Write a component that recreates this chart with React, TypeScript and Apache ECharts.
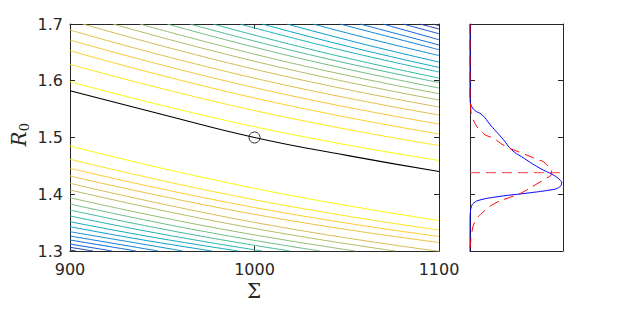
import React, { useEffect, useRef } from 'react';
import * as echarts from 'echarts';

// Axes
const sigmaRange = [900, 1100];
const sigmaStep = 100;
const r0Range = [1.3, 1.7];
const r0Step = 0.1;

// Contour lines above the ridge, [Σ, R0] points, ordered from ridge outward
const upperContours: number[][][] = [
  [[900, 1.5983], [1000, 1.519], [1100, 1.4595]],
  [[900, 1.629], [1000, 1.5475], [1100, 1.4859]],
  [[900, 1.653], [1000, 1.5696], [1100, 1.5062]],
  [[900, 1.6718], [1000, 1.5878], [1100, 1.5238]],
  [[900, 1.6894], [1000, 1.6045], [1100, 1.5396]],
  [[907.0, 1.7], [1003.5, 1.6176], [1100, 1.5537]],
  [[923.3, 1.7], [1011.7, 1.6253], [1100, 1.5661]],
  [[937.9, 1.7], [1019.0, 1.632], [1100, 1.5772]],
  [[952.6, 1.7], [1026.3, 1.6382], [1100, 1.5872]],
  [[965.0, 1.7], [1032.5, 1.6439], [1100, 1.5969]],
  [[977.5, 1.7], [1038.8, 1.6487], [1100, 1.6048]],
  [[992.1, 1.7], [1046.0, 1.6548], [1100, 1.6154]],
  [[1004.1, 1.7], [1052.0, 1.6595], [1100, 1.6235]],
  [[1017.6, 1.7], [1058.8, 1.6648], [1100, 1.633]],
  [[1031.7, 1.7], [1065.9, 1.6711], [1100, 1.6445]],
  [[1046.3, 1.7], [1100, 1.6547]],
  [[1057.2, 1.7], [1100, 1.663]],
  [[1069.6, 1.7], [1100, 1.6723]],
  [[1080.5, 1.7], [1100, 1.6829]],
  [[1089.7, 1.7], [1100, 1.6912]],
  [[1096.7, 1.7], [1100, 1.6972]],
];

// Contour lines below the ridge, ordered from ridge outward
const lowerContours: number[][][] = [
  [[900, 1.485], [1000, 1.4104], [1100, 1.3537]],
  [[900, 1.4616], [1000, 1.3903], [1100, 1.337]],
  [[900, 1.4457], [1000, 1.3766], [1100, 1.3256]],
  [[900, 1.4322], [1000, 1.3646], [1100, 1.315]],
  [[900, 1.4193], [1000, 1.3504], [1100, 1.2995]],
  [[900, 1.4075], [988.1, 1.3468], [1076.2, 1.3]],
  [[900, 1.3939], [977.3, 1.3416], [1054.5, 1.3]],
  [[900, 1.3828], [967.8, 1.3373], [1035.5, 1.3]],
  [[900, 1.3722], [959.6, 1.3329], [1019.2, 1.3]],
  [[900, 1.3617], [952.0, 1.3285], [1004.1, 1.3]],
  [[900, 1.3516], [945.6, 1.3239], [991.1, 1.3]],
  [[900, 1.3428], [938.5, 1.3201], [977.0, 1.3]],
  [[900, 1.334], [961.2, 1.3]],
  [[900, 1.3264], [947.7, 1.3]],
  [[900, 1.3194], [935.8, 1.3]],
  [[900, 1.3123], [922.8, 1.3]],
  [[900, 1.3065], [912.5, 1.3]],
  [[900, 1.3018], [903.3, 1.3]],
];

// Black curve and the true-parameter marker
const bestFitSigma = [900, 950, 1000, 1050, 1100];
const bestFitR0 = [1.5825, 1.5405, 1.5, 1.4685, 1.44];
const trueSigma = 1000;
const trueR0 = 1.5;

// Marginal densities (right panel)
const blueR0 = [1.7, 1.6, 1.565, 1.557, 1.548, 1.54, 1.522, 1.496, 1.478, 1.466, 1.446, 1.434, 1.425, 1.42, 1.416, 1.4105, 1.4075, 1.4027, 1.3957, 1.3899, 1.3846, 1.378, 1.37, 1.355, 1.3];
const blueDensity = [0, 0, 0.002, 0.012, 0.05, 0.13, 0.22, 0.36, 0.45, 0.556, 0.75, 0.895, 0.968, 0.986, 0.98, 0.94, 0.86, 0.65, 0.3, 0.108, 0.04, 0.015, 0.005, 0.001, 0];
const redR0 = [1.7, 1.58, 1.555, 1.5338, 1.5074, 1.4986, 1.4838, 1.475, 1.4616, 1.4545, 1.437, 1.4281, 1.4193, 1.4027, 1.3957, 1.3841, 1.3664, 1.3516, 1.3312, 1.31, 1.3];
const redDensity = [0, 0, 0.006, 0.029, 0.143, 0.25, 0.39, 0.52, 0.72, 0.81, 0.878, 0.82, 0.73, 0.556, 0.448, 0.27, 0.126, 0.054, 0.018, 0.004, 0];
const meanR0 = 1.438;
const densityRange = [0, 1];

const PARULA = ['#352A87', '#0F5CDD', '#1481D6', '#06A4CA', '#2EB7A4', '#87BF77', '#D1BB59', '#FEC832', '#F9FB0E'];
function parula(t: number): string {
  const n = PARULA.length - 1;
  const x = Math.max(0, Math.min(1, t)) * n;
  const i = Math.min(n - 1, Math.floor(x));
  const f = x - i;
  const a = PARULA[i], b = PARULA[i + 1];
  const c = (s: string, k: number) => parseInt(s.slice(1 + 2 * k, 3 + 2 * k), 16);
  const mix = [0, 1, 2].map((k) => Math.round(c(a, k) + (c(b, k) - c(a, k)) * f));
  return `rgb(${mix[0]},${mix[1]},${mix[2]})`;
}

const AXIS = '#262626';
const FONT = 'DejaVu Sans';

function axisBase(extra: any) {
  return {
    type: 'value',
    axisLine: { show: true, onZero: false, lineStyle: { color: AXIS, width: 1 } },
    axisTick: { show: true, inside: true, length: 5, lineStyle: { color: AXIS } },
    splitLine: { show: false },
    axisLabel: { show: false },
    ...extra,
  };
}

export default function App() {
  const ref = useRef<HTMLDivElement>(null);
  useEffect(() => {
    if (!ref.current) return;
    const chart = echarts.init(ref.current, undefined, { renderer: 'svg' });

    const contourSeries: any[] = [];
    const addGroup = (group: number[][][]) => {
      group.forEach((pts, k) => {
        const t = 1 - k / (group.length - 1);
        contourSeries.push({
          type: 'line',
          xAxisIndex: 0,
          yAxisIndex: 0,
          data: pts,
          smooth: true,
          showSymbol: false,
          symbol: 'none',
          lineStyle: { color: parula(t), width: 1 },
          z: 2,
        });
      });
    };
    addGroup(upperContours);
    addGroup(lowerContours);

    const xLabel = { show: true, margin: 10, color: AXIS, fontFamily: FONT, fontSize: 16, formatter: (v: number) => String(v) };

    chart.setOption({
      animation: false,
      backgroundColor: '#ffffff',
      grid: [
        { left: 70, top: 24, width: 369, height: 227 },
        { left: 470, top: 24, width: 93, height: 227 },
      ],
      xAxis: [
        axisBase({ gridIndex: 0, position: 'bottom', min: sigmaRange[0], max: sigmaRange[1], interval: sigmaStep, axisLabel: xLabel }),
        axisBase({ gridIndex: 0, position: 'top', min: sigmaRange[0], max: sigmaRange[1], interval: sigmaStep }),
        axisBase({ gridIndex: 1, position: 'bottom', min: densityRange[0], max: densityRange[1], axisTick: { show: false } }),
        axisBase({ gridIndex: 1, position: 'top', min: densityRange[0], max: densityRange[1], axisTick: { show: false } }),
      ],
      yAxis: [
        axisBase({
          gridIndex: 0, position: 'left', min: r0Range[0], max: r0Range[1], interval: r0Step,
          axisLabel: { show: true, margin: 7, color: AXIS, fontFamily: FONT, fontSize: 16, formatter: (v: number) => v.toFixed(1) },
        }),
        axisBase({ gridIndex: 0, position: 'right', min: r0Range[0], max: r0Range[1], interval: r0Step }),
        axisBase({ gridIndex: 1, position: 'left', min: r0Range[0], max: r0Range[1], interval: r0Step }),
        axisBase({ gridIndex: 1, position: 'right', min: r0Range[0], max: r0Range[1], interval: r0Step }),
      ],
      series: [
        ...contourSeries,
        {
          type: 'line',
          xAxisIndex: 0,
          yAxisIndex: 0,
          data: bestFitSigma.map((s, i) => [s, bestFitR0[i]]),
          smooth: true,
          showSymbol: false,
          symbol: 'none',
          lineStyle: { color: '#000000', width: 1.1 },
          z: 3,
        },
        {
          type: 'scatter',
          xAxisIndex: 0,
          yAxisIndex: 0,
          data: [[trueSigma, trueR0]],
          symbol: 'circle',
          symbolSize: 11,
          itemStyle: { color: 'rgba(0,0,0,0)', borderColor: '#000000', borderWidth: 1 },
          z: 4,
        },
        {
          type: 'line',
          xAxisIndex: 2,
          yAxisIndex: 2,
          data: blueR0.map((r, i) => [blueDensity[i], r]),
          smooth: true,
          showSymbol: false,
          symbol: 'none',
          lineStyle: { color: '#0000ff', width: 1 },
          z: 3,
        },
        {
          type: 'line',
          xAxisIndex: 2,
          yAxisIndex: 2,
          data: redR0.map((r, i) => [redDensity[i], r]),
          smooth: true,
          showSymbol: false,
          symbol: 'none',
          lineStyle: { color: '#ff0000', width: 1, type: [10, 6] },
          z: 4,
        },
        {
          type: 'line',
          xAxisIndex: 2,
          yAxisIndex: 2,
          data: [[densityRange[0], meanR0], [densityRange[1], meanR0]],
          showSymbol: false,
          symbol: 'none',
          lineStyle: { color: '#ff4040', width: 1, type: [10, 6] },
          z: 4,
        },
      ],
      graphic: [
        {
          type: 'text',
          x: 254,
          y: 291,
          style: { text: 'Σ', font: '20px "DejaVu Serif"', fill: AXIS, align: 'center', verticalAlign: 'middle' },
        },
        {
          type: 'group',
          x: 19,
          y: 139,
          rotation: Math.PI / 2,
          children: [
            { type: 'text', x: 0, y: 0, style: { text: 'R', font: 'italic 20px "DejaVu Serif"', fill: AXIS, align: 'center', verticalAlign: 'middle' } },
            { type: 'text', x: 12, y: 5, style: { text: '0', font: '13px "DejaVu Serif"', fill: AXIS, align: 'center', verticalAlign: 'middle' } },
          ],
        },
      ],
    });
    return () => chart.dispose();
  }, []);
  return <div ref={ref} style={{ position: 'absolute', left: 0, top: 0, width: 628, height: 310 }} />;
}
